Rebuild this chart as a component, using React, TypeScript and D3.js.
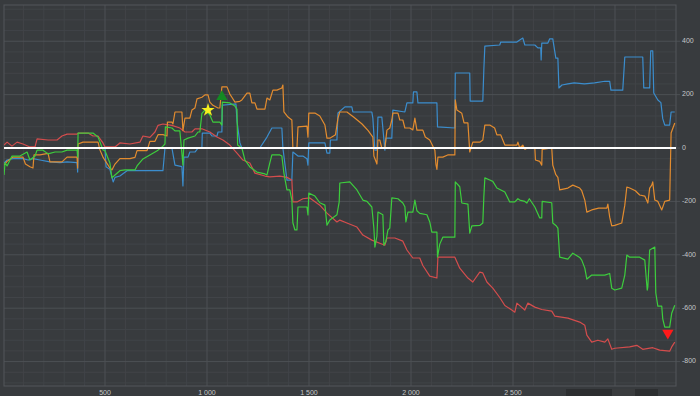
import React from 'react';
import * as d3 from 'd3';

// [trade index, value] pairs
const blueSeries: [number, number][] = [
  [0, -60], [20, -45], [49, -40], [98, -40], [123, -45], [147, -40], [181, -45], [230, -52], [279, -55], [314, -52], [363, -55],
  [366, -90], [368, -5], [377, 0], [417, 0], [466, 2], [500, 0], [505, -70], [524, -80], [540, -127], [549, -110], [573, -105],
  [608, -85], [671, -85], [720, -85], [784, -85], [794, 0], [828, 0], [843, -64], [877, -70], [882, -142], [887, -34], [907, -34],
  [916, -15], [941, -15], [956, 0], [975, 0], [977, 56], [1014, 56], [1024, 45], [1049, 45], [1054, 60], [1073, 60], [1075, 161],
  [1112, 163], [1142, 165], [1147, 100], [1161, 20], [1171, 0], [1210, 2], [1259, 0], [1294, 41], [1318, 75], [1367, 75],
  [1372, 0], [1392, -120], [1416, -120], [1421, -15], [1446, -30], [1470, -30], [1490, -40], [1495, -64], [1499, 19], [1553, 19],
  [1578, 19], [1588, -19], [1602, -19], [1605, 30], [1637, 30], [1642, 131], [1676, 154], [1710, 154], [1715, 135], [1808, 135],
  [1813, 112], [1823, -8], [1833, -8], [1838, 116], [1857, 116], [1872, -8], [1877, 37], [1906, 37], [1911, 142], [1970, 135],
  [1980, 169], [2009, 169], [2012, 210], [2029, 210], [2034, 169], [2127, 169], [2130, 79], [2215, 75], [2217, 281], [2288, 281],
  [2290, 176], [2352, 176], [2357, 292], [2362, 382], [2435, 386], [2440, 397], [2519, 397], [2533, 405], [2548, 412], [2558, 386],
  [2607, 386], [2622, 375], [2636, 375], [2638, 330], [2641, 393], [2671, 393], [2680, 409], [2695, 409], [2710, 337], [2720, 337],
  [2725, 225], [2740, 236], [2769, 240], [2800, 244], [2850, 240], [2900, 244], [2950, 250], [2974, 250], [2980, 217], [3038, 217],
  [3048, 341], [3136, 341], [3141, 225], [3170, 225], [3175, 364], [3185, 364], [3190, 206], [3210, 180], [3225, 170], [3234, 110],
  [3244, 86], [3268, 86], [3275, 135], [3293, 135],
];

const orangeSeries: [number, number][] = [
  [5, -64], [20, -50], [49, -34], [98, -34], [110, -60], [132, -70], [147, -75], [152, -26], [181, -26], [221, -20], [230, -52],
  [255, -52], [289, -52], [314, -34], [363, -34], [366, -75], [368, 15], [392, 22], [466, 22], [475, -7], [490, -34], [524, -75],
  [534, -82], [549, -60], [573, -40], [622, -40], [647, -35], [657, -10], [706, -10], [720, 25], [745, 25], [760, 50], [784, 50],
  [804, 45], [806, 97], [828, 97], [833, 90], [843, 135], [877, 135], [882, 65], [892, 112], [916, 112], [926, 142], [941, 150],
  [951, 184], [975, 190], [990, 199], [1005, 199], [1014, 172], [1029, 160], [1054, 150], [1063, 150], [1073, 229], [1098, 229],
  [1112, 202], [1122, 190], [1137, 172], [1161, 175], [1171, 180], [1196, 206], [1210, 206], [1220, 169], [1235, 169], [1245, 146],
  [1284, 146], [1294, 187], [1308, 180], [1323, 217], [1343, 217], [1367, 225], [1372, 236], [1377, 135], [1397, 116], [1416, 105],
  [1421, 0], [1441, 0], [1446, 79], [1490, 82], [1495, 41], [1499, 131], [1529, 131], [1553, 120], [1578, 86], [1588, 37],
  [1602, 37], [1630, 50], [1642, 112], [1651, 135], [1686, 135], [1720, 115], [1760, 90], [1790, 65], [1813, 41], [1818, -30],
  [1833, -60], [1838, 30], [1847, 30], [1857, 0], [1872, 0], [1882, 67], [1896, 75], [1906, 105], [1911, 131], [1936, 131],
  [1945, 105], [1960, 105], [1970, 75], [1994, 75], [2009, 68], [2019, 112], [2029, 67], [2058, 67], [2070, 41], [2092, 30],
  [2117, -8], [2122, -60], [2127, -80], [2132, -34], [2156, -34], [2180, -26], [2215, -26], [2217, 180], [2225, 142], [2249, 130],
  [2260, 94], [2279, 94], [2288, -15], [2303, 22], [2337, 22], [2352, 30], [2362, 86], [2386, 86], [2410, 75], [2421, 49],
  [2440, 49], [2460, 11], [2499, 11], [2519, 11], [2524, 22], [2533, 0], [2548, 11], [2558, -5], [2570, 0], [2607, 0], [2610, -45],
  [2631, -50], [2641, -64], [2643, -5], [2690, 0], [2695, -64], [2710, -100], [2720, -110], [2729, -157], [2769, -150],
  [2793, -139], [2827, -150], [2837, -160], [2852, -195], [2862, -240], [2886, -232], [2920, -225], [2960, -225], [2965, -210],
  [2974, -259], [2984, -292], [2999, -290], [3033, -281], [3048, -214], [3058, -146], [3072, -150], [3100, -160], [3121, -176],
  [3146, -180], [3161, -206], [3170, -150], [3180, -139], [3185, -127], [3195, -195], [3210, -200], [3229, -232], [3244, -200],
  [3268, -195], [3275, 56], [3293, 94],
];

const greenSeries: [number, number][] = [
  [5, -101], [10, -55], [20, -67], [44, -30], [83, -30], [118, -15], [132, -45], [157, -30], [167, -8], [196, -8], [221, -22],
  [255, -15], [289, -15], [314, -8], [363, -8], [366, -34], [368, 56], [417, 56], [441, 56], [466, 41], [490, -7], [500, -10],
  [524, -56], [534, -112], [549, -101], [573, -85], [598, -82], [647, -82], [657, -67], [686, -41], [720, -26], [760, -8], [784, 7],
  [794, 15], [796, 79], [828, 75], [843, 64], [867, 64], [877, -20], [882, -64], [887, 30], [907, 37], [941, 45], [956, 60],
  [965, 60], [975, 130], [990, 142], [1014, 124], [1029, 97], [1063, 97], [1073, 86], [1075, 172], [1112, 169], [1137, 157],
  [1147, 145], [1150, 11], [1171, 0], [1186, -45], [1210, -71], [1245, -90], [1284, -97], [1294, -101], [1308, -56], [1318, -26],
  [1357, -26], [1367, -30], [1377, -94], [1392, -157], [1406, -157], [1416, -195], [1421, -280], [1431, -307], [1441, -307],
  [1446, -221], [1490, -221], [1495, -251], [1499, -169], [1529, -180], [1553, -205], [1578, -214], [1588, -289], [1602, -270],
  [1637, -250], [1648, -202], [1651, -131], [1700, -127], [1735, -157], [1764, -195], [1784, -200], [1808, -221], [1818, -300],
  [1823, -371], [1833, -330], [1838, -240], [1862, -250], [1867, -364], [1877, -350], [1887, -307], [1896, -300], [1906, -187],
  [1936, -190], [1960, -206], [1970, -220], [1975, -277], [1985, -240], [2009, -240], [2019, -195], [2029, -235], [2043, -245],
  [2078, -250], [2092, -277], [2102, -315], [2127, -315], [2130, -409], [2141, -360], [2156, -334], [2215, -334], [2217, -127],
  [2239, -145], [2249, -206], [2279, -210], [2288, -319], [2298, -292], [2337, -290], [2352, -281], [2357, -184], [2362, -112],
  [2386, -120], [2401, -125], [2421, -150], [2460, -165], [2484, -202], [2509, -202], [2524, -190], [2533, -195], [2558, -200],
  [2568, -206], [2580, -190], [2607, -221], [2631, -262], [2641, -262], [2643, -200], [2690, -205], [2695, -281], [2710, -290],
  [2720, -300], [2729, -409], [2769, -416], [2793, -394], [2827, -410], [2837, -420], [2852, -450], [2862, -491], [2886, -476],
  [2950, -476], [2974, -470], [2984, -525], [2999, -532], [3033, -525], [3048, -476], [3058, -401], [3072, -409], [3121, -409],
  [3146, -420], [3158, -532], [3161, -520], [3170, -382], [3195, -371], [3200, -543], [3210, -592], [3229, -592], [3234, -640],
  [3244, -671], [3268, -671], [3278, -619], [3293, -589],
];

const redSeries: [number, number][] = [
  [5, 11], [20, 22], [44, 7], [69, 22], [98, 15], [132, 4], [157, 4], [167, 34], [221, 30], [265, 30], [289, 45], [314, 52],
  [363, 52], [368, 56], [417, 56], [441, 45], [466, 45], [490, 19], [500, 4], [549, 4], [573, 19], [622, 15], [671, 22], [686, 45],
  [720, 40], [745, 60], [760, 85], [784, 90], [828, 85], [867, 75], [892, 60], [926, 60], [941, 72], [975, 72], [1014, 60],
  [1049, 41], [1078, 30], [1112, 11], [1147, -19], [1176, -45], [1210, -56], [1235, -94], [1284, -105], [1308, -108],
  [1357, -105], [1392, -110], [1416, -120], [1421, -202], [1441, -202], [1470, -190], [1504, -187], [1553, -214], [1588, -244],
  [1637, -277], [1651, -270], [1686, -281], [1735, -296], [1764, -326], [1808, -345], [1872, -364], [1882, -337], [1921, -337],
  [1960, -349], [1980, -382], [2009, -412], [2043, -412], [2058, -440], [2092, -480], [2127, -487], [2132, -409], [2215, -409],
  [2239, -450], [2279, -487], [2303, -502], [2337, -465], [2352, -468], [2372, -502], [2401, -525], [2435, -560], [2460, -590],
  [2494, -607], [2509, -615], [2519, -581], [2558, -607], [2573, -581], [2607, -596], [2641, -605], [2690, -611], [2705, -630],
  [2769, -637], [2827, -652], [2852, -664], [2862, -701], [2886, -727], [2916, -720], [2950, -727], [2965, -715], [2984, -754],
  [2999, -750], [3072, -745], [3107, -739], [3136, -754], [3185, -748], [3219, -757], [3268, -761], [3278, -745], [3293, -727],
];

const starMarks: [number, number][] = [[1005, 142]];
const upMarks: [number, number][] = [[1073, 192]];
const downMarks: [number, number][] = [[3259, -693]];

const xTicks = [500, 1000, 1500, 2000, 2500];
const xTickLabels = ['500', '1 000', '1 500', '2 000', '2 500'];
const yTicks = [400, 200, 0, -200, -400, -600, -800];
const yTickLabels = ['400', '200', '0', '-200', '-400', '-600', '-800'];

const W = 700;
const H = 396;
const plot = { left: 4, right: 676, top: 5, bottom: 386 };

const App: React.FC = () => {
  const x = d3.scaleLinear().domain([0, 3300]).range([3, 676.2]);
  const y = d3.scaleLinear().domain([-890, 535]).range([385.6, 5.2]);

  const line = d3.line<[number, number]>()
    .x(d => x(d[0]))
    .y(d => y(d[1]));

  const minorX = d3.range(100, 3300, 100).filter(v => v % 500 !== 0);
  const majorX = d3.range(500, 3300, 500);
  const minorY = d3.range(-880, 535, 40).filter(v => v % 200 !== 0);
  const majorY = d3.range(-800, 535, 200);

  const star = d3.symbol().type(d3.symbolStar).size(55)();
  const tri = d3.symbol().type(d3.symbolTriangle).size(55)();

  const series: { data: [number, number][]; color: string }[] = [
    { data: blueSeries, color: '#3b8dcd' },
    { data: redSeries, color: '#d44d4d' },
    { data: orangeSeries, color: '#e38c2f' },
    { data: greenSeries, color: '#3dcd3d' },
  ];

  return (
    <svg width={W} height={H} style={{ position: 'absolute', left: 0, top: 0, fontFamily: 'Liberation Sans, Arial, sans-serif' }}>
      <rect x={0} y={0} width={W} height={H} fill="#383b3e" />
      <defs>
        <clipPath id="plotClip">
          <rect x={plot.left} y={plot.top} width={plot.right - plot.left} height={plot.bottom - plot.top} />
        </clipPath>
      </defs>
      <g>
        {minorX.map(v => (
          <line key={'mx' + v} x1={x(v)} x2={x(v)} y1={plot.top} y2={plot.bottom} stroke="#414448" strokeWidth={1} />
        ))}
        {minorY.map(v => (
          <line key={'my' + v} x1={plot.left} x2={plot.right} y1={y(v)} y2={y(v)} stroke="#414448" strokeWidth={1} />
        ))}
        {majorX.map(v => (
          <line key={'Mx' + v} x1={x(v)} x2={x(v)} y1={plot.top} y2={plot.bottom} stroke="#4c5054" strokeWidth={1} />
        ))}
        {majorY.map(v => (
          <line key={'My' + v} x1={plot.left} x2={plot.right + 4} y1={y(v)} y2={y(v)} stroke="#4c5054" strokeWidth={1} />
        ))}
        <rect x={plot.left} y={plot.top} width={plot.right - plot.left} height={plot.bottom - plot.top}
          fill="none" stroke="#53575b" strokeWidth={1} />
      </g>
      <g clipPath="url(#plotClip)">
        {series.map((s, i) => (
          <path key={i} d={line(s.data) || ''} fill="none" stroke={s.color} strokeWidth={1.2} strokeLinejoin="round" />
        ))}
        <line x1={plot.left} x2={plot.right} y1={y(0)} y2={y(0)} stroke="#ffffff" strokeWidth={2} />
        {starMarks.map((d, i) => (
          <path key={'s' + i} d={star || ''} transform={`translate(${x(d[0])},${y(d[1])})`} fill="#f5ee1e" />
        ))}
        {upMarks.map((d, i) => (
          <path key={'u' + i} d={tri || ''} transform={`translate(${x(d[0])},${y(d[1])})`} fill="#138a22" />
        ))}
        {downMarks.map((d, i) => (
          <path key={'d' + i} d={tri || ''} transform={`translate(${x(d[0])},${y(d[1])}) rotate(180)`} fill="#ff1a1a" />
        ))}
      </g>
      <g fontSize={7} fill="#c4c6c8">
        {xTicks.map((v, i) => (
          <text key={'xt' + v} x={x(v)} y={395} textAnchor="middle">{xTickLabels[i]}</text>
        ))}
        {yTicks.map((v, i) => (
          <text key={'yt' + v} x={682} y={y(v)} dominantBaseline="middle">{yTickLabels[i]}</text>
        ))}
      </g>
      <g>
        <rect x={566} y={389} width={46} height={7} fill="#2c2e30" />
        <rect x={612} y={389} width={23} height={7} fill="#3a3c3e" />
        <rect x={635} y={389} width={23} height={7} fill="#2c2e30" />
      </g>
    </svg>
  );
};

export default App;
